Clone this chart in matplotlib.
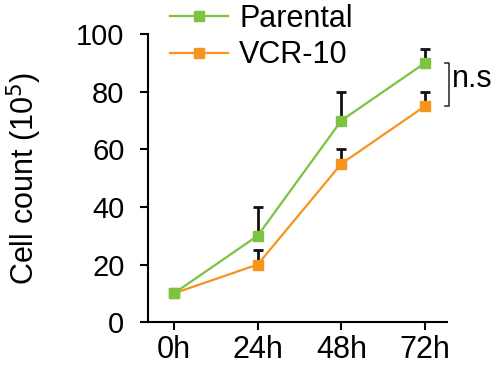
import matplotlib
matplotlib.use('Agg')
import matplotlib.pyplot as plt

# Data
timepoints = ['0h', '24h', '48h', '72h']
parental = [10, 30, 70, 90]
parental_err = [0, 10, 10, 5]
vcr10 = [10, 20, 55, 75]
vcr10_err = [0, 5, 5, 5]

plt.rcParams['font.family'] = ['Liberation Sans', 'DejaVu Sans']

fig = plt.figure(figsize=(5.02, 3.75), dpi=100)
ax = fig.add_axes([0.295, 0.141, 0.595, 0.768])

x = list(range(len(timepoints)))
green = '#7DC242'
orange = '#F7941D'

ax.errorbar(x, vcr10, yerr=[[0] * 4, vcr10_err], color=orange, marker='s', markersize=7.5,
            linewidth=1.6, ecolor='#111111', elinewidth=2, capsize=3.5, capthick=2,
            label='VCR-10', clip_on=False, zorder=3)
ax.errorbar(x, parental, yerr=[[0] * 4, parental_err], color=green, marker='s', markersize=7.5,
            linewidth=1.6, ecolor='#111111', elinewidth=2, capsize=3.5, capthick=2,
            label='Parental', clip_on=False, zorder=4)

ax.set_xlim(-0.31, 3.26)
ax.set_ylim(0, 100)
ax.set_xticks(x)
ax.set_xticklabels(timepoints)
ax.set_yticks([0, 20, 40, 60, 80, 100])
ax.tick_params(width=1.5, length=6)
ax.tick_params(axis='x', labelsize=22, pad=3)
ax.tick_params(axis='y', labelsize=21, pad=11)
ax.spines['top'].set_visible(False)
ax.spines['right'].set_visible(False)
ax.spines['left'].set_linewidth(1.5)
ax.spines['bottom'].set_linewidth(1.5)
ax.set_ylabel('Cell count (10$^5$)', fontsize=22)
ax.yaxis.set_label_coords(-0.35, 0.5)

# significance bracket
bx = 3.29
ax.plot([bx - 0.05, bx, bx, bx - 0.05], [parental[3], parental[3], vcr10[3], vcr10[3]],
        color='#333333', linewidth=1.2, clip_on=False)
ax.text(bx + 0.03, (parental[3] + vcr10[3]) / 2 + 2, 'n.s', fontsize=22, va='center', ha='left')

handles, labels = ax.get_legend_handles_labels()
handles = [h[0] for h in handles[::-1]]
leg = fig.legend(handles, labels[::-1], loc='upper left', bbox_to_anchor=(170 / 502, 0.99),
                 frameon=False, fontsize=22, handlelength=1.9, handletextpad=0.36,
                 labelspacing=0.22, borderpad=0, borderaxespad=0)

fig.savefig('out.png', dpi=100)
